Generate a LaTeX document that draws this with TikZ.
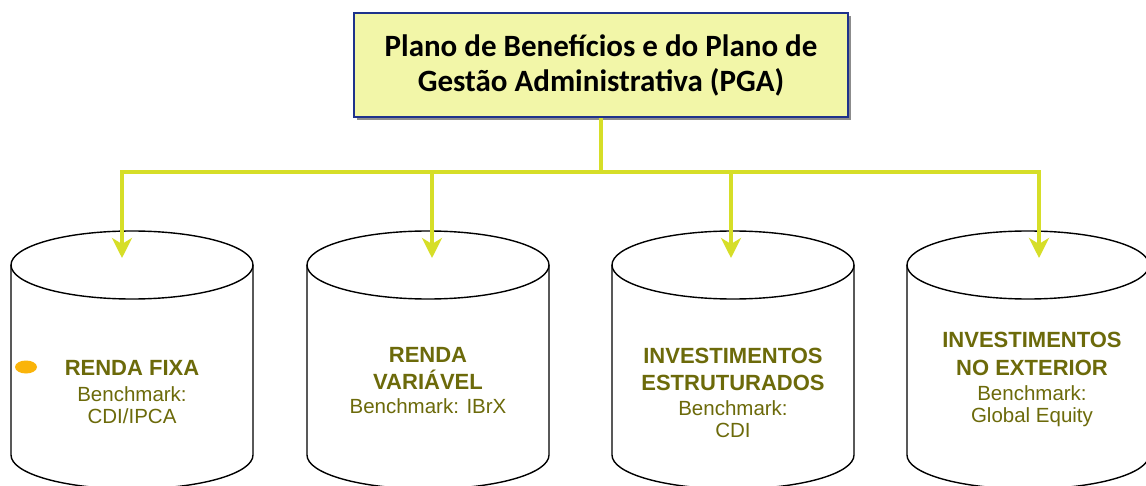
\documentclass[tikz,border=0pt]{standalone}
\usepackage{fontspec}
\setmainfont{Liberation Sans}
\newfontfamily\calib{Carlito}
\usepackage{tikz}
\usetikzlibrary{arrows.meta,shadows}

\definecolor{boxfill}{RGB}{242,246,168}
\definecolor{boxline}{RGB}{30,50,140}
\definecolor{linkcol}{RGB}{214,222,40}
\definecolor{olive}{RGB}{108,106,10}
\definecolor{blob}{RGB}{250,180,10}

\newcommand{\hd}[1]{{\fontsize{22}{22}\selectfont\bfseries #1}}

\tikzset{
  pgabox/.style={draw=boxline, line width=1.6pt, fill=boxfill, minimum width=494pt, minimum height=104pt,
    align=center, font=\calib\bfseries\fontsize{31}{35}\selectfont,
    drop shadow={shadow xshift=3pt, shadow yshift=-3pt, fill=black!45, opacity=1}},
  link/.style={draw=linkcol, line width=4pt, -{Stealth[length=20pt,width=20pt,inset=6pt]}},
  bus/.style={draw=linkcol, line width=4pt},
  cyl/.style={draw=black, line width=1.4pt},
  fundo/.style={align=center, inner sep=0pt, anchor=north, text=olive, font=\fontsize{20.5}{22}\selectfont}
}

\begin{document}
\begin{tikzpicture}[x=1pt,y=-1pt]
\useasboundingbox (0,0) rectangle (1146,486);
\clip (0,0) rectangle (1146,486);

% cylinders
\foreach \cx in {132,428,733,1028}{
  \filldraw[cyl, fill=white] (\cx-121,265) -- (\cx-121,455) arc[start angle=180, end angle=360, x radius=121pt, y radius=34pt] -- (\cx+121,265);
  \draw[cyl] (\cx,265) ellipse[x radius=121pt, y radius=34pt]; % tampa
}
\coordinate (topa) at (122,258);
\coordinate (topb) at (432,258);
\coordinate (topc) at (731,258);
\coordinate (topd) at (1039,258);

\node[pgabox] (pga) at (601,65) {Plano de Benefícios e do Plano de\\Gestão Administrativa (PGA)};
\coordinate (hub) at (pga.south |- 0,172);

\draw[bus] (pga.south) -- (hub);
\draw[link] (hub) -| (topa);
\draw[link] (hub) -| (topb);
\draw[link] (hub) -| (topc);
\draw[link] (hub) -| (topd);

\node[fundo] (rf) at (132,360) {\hd{RENDA FIXA}\\[4pt] Benchmark:\\ CDI/IPCA};
\node[fundo] (rv) at (428,347) {\hd{RENDA}\\[5pt] \hd{VARIÁVEL}\\[2pt] Benchmark: IBrX};
\node[fundo] (ie) at (733,348) {\hd{INVESTIMENTOS}\\[5pt] \hd{ESTRUTURADOS}\\[3pt] Benchmark:\\ CDI};
\node[fundo] (ix) at (1032,332) {\hd{INVESTIMENTOS}\\[6pt] \hd{NO EXTERIOR}\\[3pt] Benchmark:\\ Global Equity};

\fill[blob] (26,367) ellipse[x radius=11pt, y radius=6.5pt]; % mancha
\end{tikzpicture}
\end{document}
